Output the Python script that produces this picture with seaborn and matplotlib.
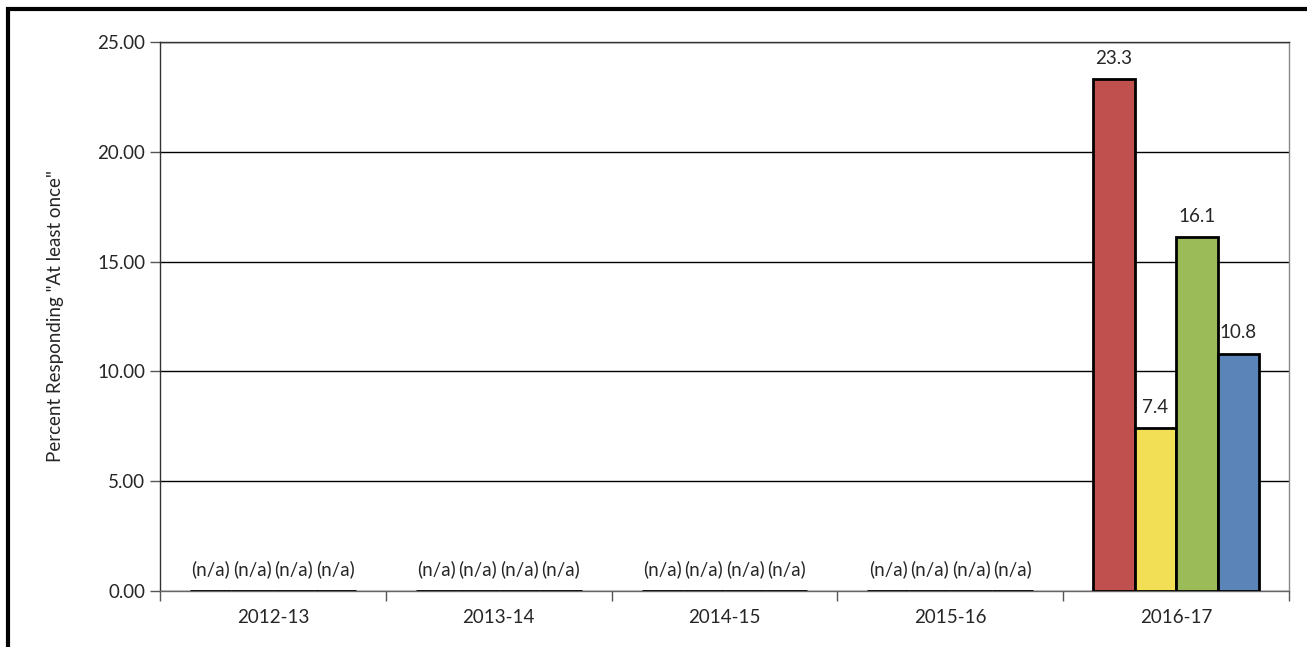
import numpy as np
import pandas as pd
import matplotlib
matplotlib.use('Agg')
import matplotlib.pyplot as plt
import seaborn as sns
from matplotlib.patches import Rectangle
from matplotlib.ticker import FormatStrFormatter

# Survey years and the four groups (no legend in the source, so generic names)
years = ['2012-13', '2013-14', '2014-15', '2015-16', '2016-17']
groups = ['Group 1', 'Group 2', 'Group 3', 'Group 4']
colors = ['#C0504D', '#F2DF56', '#9BBB59', '#5B84B8']

# nan = not available for that year
group_1 = [np.nan, np.nan, np.nan, np.nan, 23.3]
group_2 = [np.nan, np.nan, np.nan, np.nan, 7.4]
group_3 = [np.nan, np.nan, np.nan, np.nan, 16.1]
group_4 = [np.nan, np.nan, np.nan, np.nan, 10.8]

rows = []
for name, vals in zip(groups, [group_1, group_2, group_3, group_4]):
    for yr, v in zip(years, vals):
        rows.append({'year': yr, 'group': name, 'value': v})
df = pd.DataFrame(rows)
df['plot_value'] = df['value'].fillna(0.0)

sns.set_style('white')
plt.rcParams['font.family'] = ['Lato', 'DejaVu Sans']
FS = 13.5

fig = plt.figure(figsize=(13.07, 6.47), dpi=100)
ax = fig.add_axes([160 / 1307, 1 - 591 / 647, (1289 - 160) / 1307, (591 - 42) / 647])

sns.barplot(
    data=df, x='year', y='plot_value', hue='group',
    order=years, hue_order=groups, palette=colors, saturation=1,
    width=0.735, edgecolor='black', linewidth=2.0,
    legend=False, ax=ax, zorder=3,
)

# value labels, "(n/a)" for missing years
for container, name in zip(ax.containers, groups):
    vals = df[df['group'] == name].set_index('year').loc[years, 'value']
    labels = ['(n/a)' if np.isnan(v) else f'{v:.1f}' for v in vals]
    ax.bar_label(container, labels=labels, padding=9, fontsize=FS)

ax.set_ylim(0, 25)
ax.set_yticks([0, 5, 10, 15, 20, 25])
ax.yaxis.set_major_formatter(FormatStrFormatter('%.2f'))
ax.yaxis.grid(True, color='black', linewidth=1.0, zorder=0)
ax.set_axisbelow(True)

# category ticks at the boundaries, labels at centres
ax.set_xlim(-0.5, 4.5)
ax.set_xticks(range(len(years)))
ax.set_xticklabels(years)
ax.set_xticks(np.arange(-0.5, 5, 1), minor=True)
ax.tick_params(axis='x', which='major', length=0, labelsize=FS, pad=13)
ax.tick_params(axis='x', which='minor', length=7, width=1, color='#555555', direction='out', bottom=True)
ax.tick_params(axis='y', length=7.5, width=1, color='#555555', labelsize=FS, left=True, pad=3)

ax.set_xlabel('')
ax.set_ylabel('Percent Responding "At least once"', fontsize=FS, labelpad=24)

for side in ['top', 'right', 'left', 'bottom']:
    ax.spines[side].set_visible(True)
    ax.spines[side].set_linewidth(1.0)
ax.spines['top'].set_color('#333333')
ax.spines['right'].set_color('#888888')
ax.spines['left'].set_color('#333333')
ax.spines['bottom'].set_color('#666666')

# outer frame (top and left edges visible in the original)
fig.add_artist(Rectangle((7.5 / 1307, -0.5), 2.0, 0.5 + (1 - 8.5 / 647),
                         transform=fig.transFigure, fill=False,
                         edgecolor='black', linewidth=3))

fig.savefig('out.png', dpi=100)
